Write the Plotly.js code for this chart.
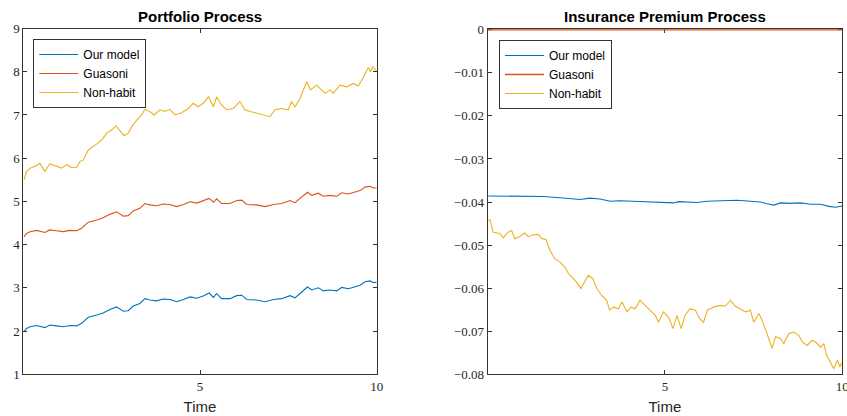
<!DOCTYPE html>
<html>
<head>
<meta charset="utf-8">
<script src="https://cdn.plot.ly/plotly-3.0.1.min.js"></script>
<style>html,body{margin:0;padding:0;background:#fff;}#chart{width:847px;height:416px;}</style>
</head>
<body>
<div id="chart"></div>
<script>
// ---- Data ----
const seriesNames = ['Our model', 'Guasoni', 'Non-habit'];

// Portfolio process: time grid shared by "Our model" and "Guasoni"
const tPortfolio = [0.02,0.09,0.19,0.38,0.61,0.75,0.94,1.13,1.32,1.51,1.65,1.84,2.08,2.26,2.45,2.64,2.83,2.97,3.11,3.30,
  3.44,3.58,3.77,3.96,4.15,4.34,4.53,4.72,4.91,5.09,5.26,5.38,5.47,5.61,5.85,6.04,6.18,6.32,6.60,6.84,
  7.08,7.31,7.55,7.69,7.83,8.04,8.16,8.35,8.49,8.68,8.87,9.01,9.20,9.39,9.53,9.67,9.81,9.91,10.0];
const portfolioOurModel = [1.98,2.06,2.10,2.13,2.08,2.14,2.12,2.10,2.13,2.12,2.18,2.32,2.37,2.42,2.50,2.56,2.46,2.47,2.58,2.64,
  2.75,2.72,2.70,2.74,2.73,2.68,2.73,2.79,2.76,2.81,2.88,2.78,2.87,2.75,2.75,2.82,2.83,2.73,2.72,2.68,
  2.73,2.75,2.82,2.77,2.87,3.02,2.95,3.00,2.93,2.95,2.93,3.01,2.98,3.02,3.06,3.14,3.16,3.12,3.13];
const portfolioGuasoni = [4.18,4.26,4.30,4.33,4.28,4.34,4.32,4.30,4.33,4.32,4.38,4.52,4.57,4.62,4.70,4.76,4.66,4.67,4.78,4.84,
  4.95,4.92,4.90,4.94,4.93,4.88,4.93,4.99,4.96,5.01,5.07,4.98,5.06,4.95,4.95,5.02,5.03,4.93,4.92,4.88,
  4.93,4.95,5.02,4.97,5.06,5.21,5.14,5.19,5.12,5.14,5.12,5.20,5.17,5.21,5.25,5.33,5.35,5.31,5.31];

const tPortfolioNH = [0.02,0.09,0.19,0.38,0.47,0.61,0.75,0.94,1.08,1.23,1.37,1.51,1.60,1.70,1.84,2.08,2.22,2.36,2.50,2.62,
  2.74,2.85,2.97,3.07,3.21,3.35,3.44,3.58,3.70,3.87,4.01,4.15,4.29,4.48,4.67,4.81,4.95,5.09,5.24,5.38,
  5.47,5.61,5.75,5.94,6.13,6.27,6.42,6.60,6.79,6.98,7.12,7.31,7.50,7.59,7.69,7.83,8.02,8.13,8.30,8.44,
  8.54,8.68,8.77,8.96,9.15,9.34,9.48,9.58,9.76,9.83,9.89,10.0];
const portfolioNonHabit = [5.50,5.69,5.77,5.83,5.88,5.69,5.87,5.81,5.77,5.85,5.78,5.79,5.92,5.96,6.19,6.33,6.42,6.58,6.65,6.75,
  6.62,6.52,6.58,6.73,6.88,7.00,7.13,7.08,7.00,7.12,7.08,7.13,7.00,7.05,7.15,7.27,7.19,7.27,7.42,7.19,
  7.42,7.23,7.12,7.15,7.31,7.12,7.08,7.04,7.00,6.96,7.12,7.15,7.12,7.31,7.19,7.38,7.77,7.58,7.69,7.58,
  7.50,7.58,7.50,7.69,7.65,7.73,7.67,7.81,8.10,8.00,8.12,8.00];

// Insurance premium process
const tPremiumOur = [0.02,0.91,1.57,2.04,2.61,2.89,3.17,3.46,3.74,4.11,4.59,4.96,5.24,5.39,5.62,5.90,6.19,6.56,7.03,7.41,
  7.69,7.88,8.07,8.26,8.54,8.82,9.11,9.39,9.62,9.81,10.0];
const premiumOurModel = [-0.0386,-0.0387,-0.0387,-0.0390,-0.0394,-0.0391,-0.0393,-0.0398,-0.0397,-0.0398,-0.0399,-0.0401,-0.0402,-0.0399,-0.0400,-0.0401,-0.0398,-0.0397,-0.0396,-0.0398,
  -0.0400,-0.0404,-0.0407,-0.0402,-0.0403,-0.0402,-0.0405,-0.0405,-0.0410,-0.0412,-0.0409];
const tPremiumGuasoni = [0.0, 10.0];
const premiumGuasoni = [0, 0];
const tPremiumNH = [0.02,0.07,0.16,0.35,0.44,0.58,0.68,0.77,0.91,1.05,1.15,1.29,1.43,1.53,1.65,1.76,1.90,2.04,2.18,2.28,
  2.42,2.51,2.63,2.75,2.84,2.97,3.08,3.22,3.36,3.44,3.55,3.69,3.79,3.93,4.04,4.16,4.30,4.44,4.59,4.73,
  4.82,4.96,5.10,5.23,5.34,5.46,5.57,5.70,5.86,5.98,6.09,6.20,6.37,6.56,6.70,6.85,6.99,7.13,7.27,7.41,
  7.50,7.65,7.74,7.88,8.02,8.12,8.26,8.35,8.49,8.63,8.78,8.87,9.01,9.15,9.25,9.39,9.48,9.56,9.67,9.76,
  9.86,9.93,10.0];
const premiumNonHabit = [-0.0443,-0.0441,-0.0470,-0.0473,-0.0483,-0.0470,-0.0466,-0.0485,-0.0480,-0.0472,-0.0481,-0.0476,-0.0475,-0.0485,-0.0487,-0.0512,-0.0532,-0.0539,-0.0551,-0.0566,
  -0.0578,-0.0586,-0.0601,-0.0582,-0.0570,-0.0578,-0.0601,-0.0617,-0.0628,-0.0651,-0.0644,-0.0648,-0.0632,-0.0655,-0.0644,-0.0648,-0.0628,-0.0640,-0.0651,-0.0663,
  -0.0679,-0.0655,-0.0667,-0.0694,-0.0663,-0.0694,-0.0663,-0.0648,-0.0651,-0.0671,-0.0679,-0.0651,-0.0644,-0.0640,-0.0642,-0.0628,-0.0642,-0.0648,-0.0655,-0.0651,
  -0.0679,-0.0659,-0.0675,-0.0706,-0.0740,-0.0713,-0.0717,-0.0729,-0.0706,-0.0702,-0.0710,-0.0725,-0.0733,-0.0721,-0.0725,-0.0737,-0.0729,-0.0756,-0.0775,-0.0787,
  -0.0767,-0.0783,-0.0771];

const xTickVals = [5, 10];
const yTickLeft = [1,2,3,4,5,6,7,8,9];
const yTickRight = [0,-0.01,-0.02,-0.03,-0.04,-0.05,-0.06,-0.07,-0.08];
const yTickRightText = ['0','\u22120.01','\u22120.02','\u22120.03','\u22120.04','\u22120.05','\u22120.06','\u22120.07','\u22120.08'];
const colors = ['#0072BD', '#D95319', '#EDB120'];

// ---- Traces ----
const lw = 1.1;
const traces = [
  {x: tPortfolio, y: portfolioOurModel, name: seriesNames[0], xaxis:'x', yaxis:'y', legend:'legend'},
  {x: tPortfolio, y: portfolioGuasoni, name: seriesNames[1], xaxis:'x', yaxis:'y', legend:'legend'},
  {x: tPortfolioNH, y: portfolioNonHabit, name: seriesNames[2], xaxis:'x', yaxis:'y', legend:'legend'},
  {x: tPremiumOur, y: premiumOurModel, name: seriesNames[0], xaxis:'x2', yaxis:'y2', legend:'legend2'},
  {x: tPremiumGuasoni, y: premiumGuasoni, name: seriesNames[1], xaxis:'x2', yaxis:'y2', legend:'legend2'},
  {x: tPremiumNH, y: premiumNonHabit, name: seriesNames[2], xaxis:'x2', yaxis:'y2', legend:'legend2'}
].map((t, i) => Object.assign({type:'scatter', mode:'lines', line:{color: colors[i % 3], width: lw}}, t));
traces[4].line.width = 1.3;

const W = 847, H = 416;
const axCommon = {
  showgrid:false, zeroline:false, showline:true, mirror:'ticks', linecolor:'#333', linewidth:1,
  ticks:'inside', ticklen:4, tickwidth:1, tickcolor:'#333', automargin:false, ticklabeloverflow:'allow',
  tickfont:{family:'Liberation Serif, serif', size:13, color:'#262626'}
};
const xTitle = {text:'Time', font:{family:'Liberation Sans, Arial, sans-serif', size:15, color:'#262626'}, standoff:8};
const legCommon = {
  font:{family:'Liberation Sans, Arial, sans-serif', size:12, color:'#000'},
  bgcolor:'#fff', bordercolor:'#333', borderwidth:1, xanchor:'left', yanchor:'top',
  itemwidth:39, tracegroupgap:0
};

const layout = {
  width: W, height: H,
  margin:{l:0, r:0, t:0, b:0},
  paper_bgcolor:'#fff', plot_bgcolor:'#fff',
  showlegend:true,
  xaxis: Object.assign({}, axCommon, {domain:[23.3/W, 376.7/W], range:[0,10], tickvals:xTickVals, anchor:'y', title:xTitle}),
  yaxis: Object.assign({}, axCommon, {domain:[(H-374.3)/H, (H-28.5)/H], range:[1,9], tickvals:yTickLeft, anchor:'x'}),
  xaxis2: Object.assign({}, axCommon, {domain:[487.5/W, 842.3/W], range:[0,10], tickvals:xTickVals, anchor:'y2', title:xTitle, layer:'below traces'}),
  yaxis2: Object.assign({}, axCommon, {domain:[(H-374.3)/H, (H-28.5)/H], range:[-0.08, 0.0003], tickvals:yTickRight, ticktext:yTickRightText, anchor:'x2', layer:'below traces'}),
  legend: Object.assign({}, legCommon, {x:33.3/W, y:(H-39)/H}),
  legend2: Object.assign({}, legCommon, {x:499/W, y:(H-40)/H}),
  annotations: [
    {text:'Portfolio Process', x:(23.3+376.7)/2/W, y:(H-16.5)/H, xref:'paper', yref:'paper', xanchor:'center', yanchor:'middle', showarrow:false,
     font:{family:'Liberation Sans, Arial, sans-serif', size:15, weight:'bold', color:'#000'}},
    {text:'Insurance Premium Process', x:(487.5+842.3)/2/W, y:(H-16.5)/H, xref:'paper', yref:'paper', xanchor:'center', yanchor:'middle', showarrow:false,
     font:{family:'Liberation Sans, Arial, sans-serif', size:15, weight:'bold', color:'#000'}}
  ]
};

Plotly.newPlot('chart', traces, layout, {displayModeBar:false, staticPlot:true});
</script>
</body>
</html>
